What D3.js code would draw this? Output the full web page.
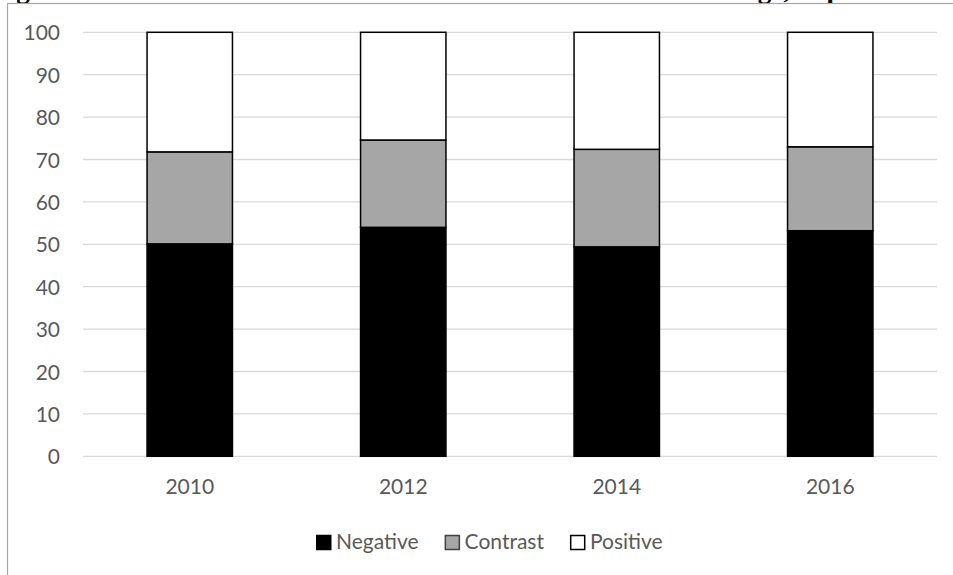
<!DOCTYPE html>
<html>
<head>
<meta charset="utf-8">
<script src="https://cdn.jsdelivr.net/npm/d3@7"></script>
<style>
  html, body { margin: 0; padding: 0; background: #fff; overflow: hidden; }
  svg { display: block; }
</style>
</head>
<body>
<svg id="chart" width="953" height="575"></svg>
<script>
// ---- data ----
const years = ["2010", "2012", "2014", "2016"];
const negative = [50.1, 54.0, 49.4, 53.2];
const contrast = [21.7, 20.6, 23.0, 19.8];
const positive = [28.2, 25.4, 27.6, 27.0];
const seriesNames = ["Negative", "Contrast", "Positive"];
const yTicks = [0, 10, 20, 30, 40, 50, 60, 70, 80, 90, 100];
const titleText = "Figure 3: The tone of the news about the EU in the election coverage, in percent";

const colors = { Negative: "#000000", Contrast: "#a6a6a6", Positive: "#ffffff" };
const font = "Lato, 'Open Sans', sans-serif";
const textColor = "#595959";

const svg = d3.select("#chart");

// title (cut off at the top, as in the reference)
const title = svg.append("text")
  .attr("x", -8).attr("y", -2)
  .attr("font-family", "'Liberation Serif', serif")
  .attr("font-weight", "bold")
  .attr("font-size", 21)
  .attr("fill", "#000")
  .text(titleText);
// scale so that the "g" of "coverage" falls where it does in the reference
const gIdx = titleText.indexOf("coverage") + 6;
const prefixW = title.node().getSubStringLength(0, gIdx);
title.attr("font-size", 21 * (758 + 8) / prefixW);

// chart frame
svg.append("rect")
  .attr("x", 7.5).attr("y", 3.5)
  .attr("width", 1000).attr("height", 1000)
  .attr("fill", "none")
  .attr("stroke", "#a6a6a6")
  .attr("stroke-width", 1.2);

const x = d3.scaleBand().domain(years).range([83, 937]).paddingInner(0.6).paddingOuter(0.3);
const y = d3.scaleLinear().domain([0, 100]).range([456.3, 32.3]);

// gridlines
svg.append("g").selectAll("line").data(yTicks).join("line")
  .attr("x1", 83).attr("x2", 937)
  .attr("y1", d => y(d)).attr("y2", d => y(d))
  .attr("stroke", "#d9d9d9").attr("stroke-width", 1.3);

// y axis labels
const yAxis = d3.axisLeft(y).tickValues(yTicks).tickSize(0).tickPadding(0);
const gy = svg.append("g").attr("transform", "translate(60,0)").call(yAxis);
gy.select(".domain").remove();
gy.selectAll("text")
  .attr("font-family", font).attr("font-size", 21).attr("fill", textColor)
  .attr("dy", "0.36em");

// x axis labels
const xAxis = d3.axisBottom(x).tickSize(0).tickPadding(0);
const gx = svg.append("g").attr("transform", "translate(0,456.3)").call(xAxis);
gx.select(".domain").remove();
gx.selectAll("text")
  .attr("font-family", font).attr("font-size", 21).attr("fill", textColor)
  .attr("y", 38).attr("dy", 0);

// stacked bars
const table = years.map((yr, i) => ({ year: yr, Negative: negative[i], Contrast: contrast[i], Positive: positive[i] }));
const stacked = d3.stack().keys(seriesNames)(table);

svg.append("g").selectAll("g").data(stacked).join("g")
  .attr("fill", d => colors[d.key])
  .selectAll("rect").data(d => d).join("rect")
  .attr("x", d => x(d.data.year))
  .attr("width", x.bandwidth())
  .attr("y", d => y(d[1]))
  .attr("height", d => y(d[0]) - y(d[1]))
  .attr("stroke", "#000")
  .attr("stroke-width", 1.5);

// legend
const legend = svg.append("g");
let lx = 316;
seriesNames.forEach(name => {
  const g = legend.append("g");
  g.append("rect")
    .attr("x", lx + 0.75).attr("y", 535.5)
    .attr("width", 14).attr("height", 14)
    .attr("fill", colors[name])
    .attr("stroke", name === "Contrast" ? "#404040" : "#000")
    .attr("stroke-width", 1.5);
  const t = g.append("text")
    .attr("x", lx + 20).attr("y", 549)
    .attr("font-family", font).attr("font-size", 21).attr("fill", textColor)
    .text(name);
  lx += 20 + t.node().getComputedTextLength() + 26;
});
</script>
</body>
</html>
